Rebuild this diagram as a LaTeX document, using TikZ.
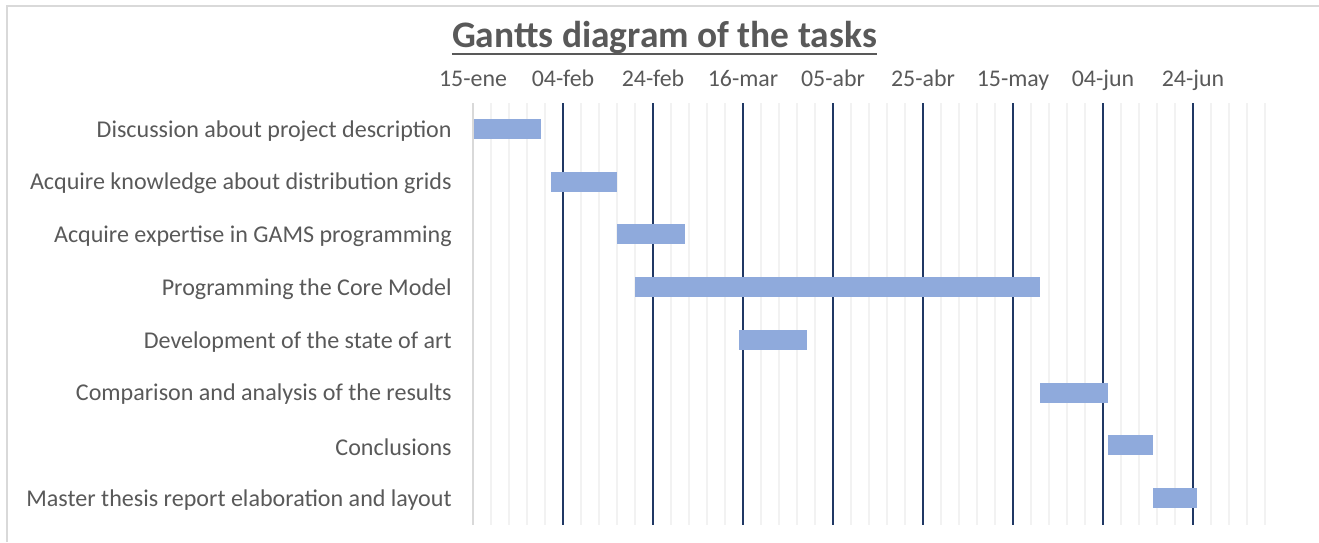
\documentclass[tikz,border=0pt]{standalone}
\usepackage{fontspec}
\setmainfont{Carlito}

\definecolor{txtgrey}{HTML}{595959}
\definecolor{minorgrid}{HTML}{F2F2F2}
\definecolor{axisgrey}{HTML}{D9D9D9}
\definecolor{majorgrid}{HTML}{203864}
\definecolor{barblue}{HTML}{8FAADC}

\tikzset{
    titletext/.style={text=txtgrey, font=\bfseries\fontsize{21.3}{25}\selectfont, inner sep=0pt, anchor=base},
    tasklabel/.style={text=txtgrey, font=\fontsize{13.7}{16}\selectfont, inner sep=0pt, anchor=east},
    datelabel/.style={text=txtgrey, font=\fontsize{13.6}{16}\selectfont, inner sep=0pt, anchor=base},
    minorline/.style={draw=minorgrid, line width=1.1pt},
    majorline/.style={draw=majorgrid, line width=1.4pt},
    axisline/.style={draw=axisgrey, line width=1.2pt},
    taskbar/.style={fill=barblue},
}

\begin{document}
\begin{tikzpicture}[x=0.02cm, y=-0.02cm]
    \useasboundingbox (0,0) rectangle (1319,542);
    \draw[axisline] (7,542) -- (7,6) -- (1319,6);

    \node[titletext] (title) at (664.5,47.5) {Gantts diagram of the tasks};
    \draw[txtgrey, line width=1.1pt] ([yshift=-3.5pt]title.base west) -- ([yshift=-3.5pt]title.base east);

    \foreach \k in {1,...,44}
        \draw[minorline] ({473+18*\k},103) -- ({473+18*\k},525);
    \draw[axisline] (473,103) -- (473,525);
    \foreach \j in {1,...,8}
        \draw[majorline] ({473+90*\j},103) -- ({473+90*\j},525);

    \foreach \lab [count=\j from 0] in {15-ene,04-feb,24-feb,16-mar,05-abr,25-abr,15-may,04-jun,24-jun}
        \node[datelabel] (d\j) at ({473+90*\j},86.5) {\lab};

    \foreach \name/\s/\e [count=\i] in {
        Discussion about project description/0.3/15,
        Acquire knowledge about distribution grids/17.3/32,
        Acquire expertise in GAMS programming/32/47.1,
        Programming the Core Model/36/126,
        Development of the state of art/59.1/74.2,
        Comparison and analysis of the results/126/141,
        Conclusions/141/151,
        Master thesis report elaboration and layout/151/160.8}
    {
        \node[tasklabel] (t\i) at (452,{131+52.7*(\i-1)}) {\name};
        \fill[taskbar] ({473+4.5*\s},{119+52.7*(\i-1)}) rectangle ({473+4.5*\e},{139+52.7*(\i-1)});
    }
\end{tikzpicture}
\end{document}
